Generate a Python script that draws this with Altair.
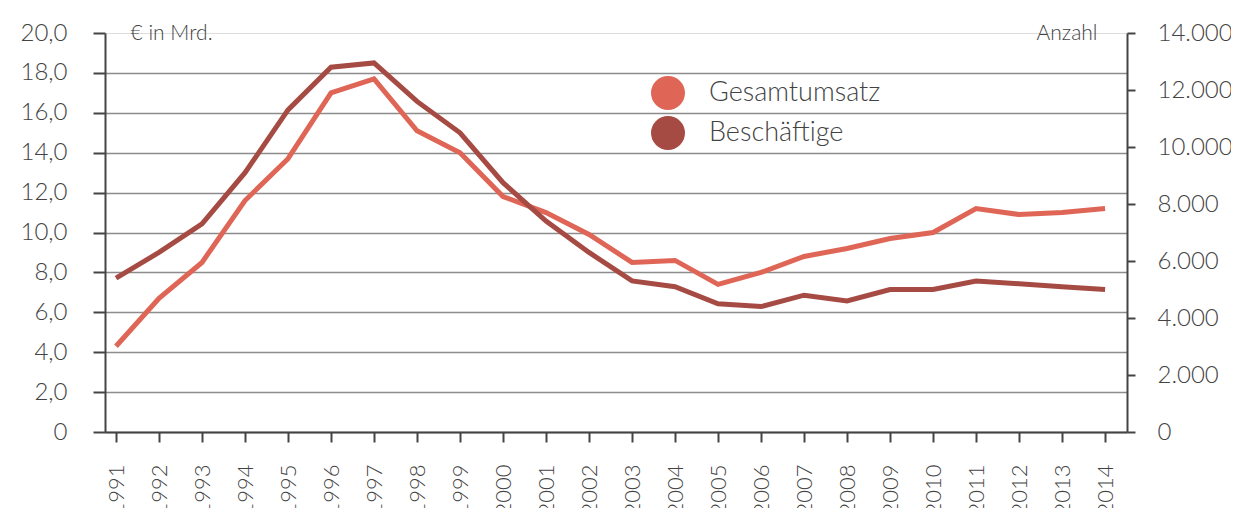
import altair as alt
import pandas as pd

years = list(range(1991, 2015))
umsatz = [4.3, 6.7, 8.5, 11.6, 13.7, 17.0, 17.7, 15.1, 14.0, 11.8, 11.0, 9.9, 8.5, 8.6, 7.4,
          8.0, 8.8, 9.2, 9.7, 10.0, 11.2, 10.9, 11.0, 11.2]
beschaeftigte = [5400, 6300, 7300, 9100, 11300, 12800, 12950, 11600, 10500, 8750, 7400, 6300,
                 5300, 5100, 4500, 4400, 4800, 4600, 5000, 5000, 5300, 5200, 5100, 5000]
series_names = ["Gesamtumsatz", "Beschäftige"]
colors = ["#DF6656", "#A64B43"]
left_ticks = [0, 2, 4, 6, 8, 10, 12, 14, 16, 18, 20]
right_ticks = [0, 2000, 4000, 6000, 8000, 10000, 12000, 14000]

df1 = pd.DataFrame({"Jahr": years, "Wert": umsatz, "Serie": series_names[0]})
df2 = pd.DataFrame({"Jahr": years, "Wert": beschaeftigte, "Serie": series_names[1]})
df_leg = pd.concat([df1, df2])

FONT = "Lato"
TXT = "#434343"
AX = "#444444"
LW = 300

x_enc = alt.X("Jahr:Q",
              scale=alt.Scale(domain=[1990.744, 2014.51], nice=False, zero=False),
              axis=alt.Axis(values=years, format="d", labelAngle=270, title=None, grid=False,
                            tickSize=10, tickWidth=2, tickColor=AX, domainColor=AX, domainWidth=2,
                            labelPadding=22, labelFontSize=22, labelColor=TXT, labelFont=FONT,
                            labelFontWeight=LW))

color_leg = alt.Color("Serie:N",
                      scale=alt.Scale(domain=series_names, range=colors),
                      legend=alt.Legend(title=None, orient="none", legendX=546, legendY=43,
                                        symbolType="circle", symbolSize=1156, symbolStrokeWidth=0,
                                        symbolOpacity=1, labelLimit=400,
                                        labelFontSize=27, labelFont=FONT, labelFontWeight=LW,
                                        labelColor=TXT, labelOffset=24, rowPadding=6, padding=0))

left = alt.Chart(df1).mark_line(strokeWidth=5, strokeJoin="miter", color=colors[0]).encode(
    x=x_enc,
    y=alt.Y("Wert:Q", scale=alt.Scale(domain=[0, 20], nice=False),
            axis=alt.Axis(values=left_ticks, orient="left", title="€ in Mrd.", titleAngle=0,
                          titleX=25, titleY=0, titleAlign="left", titleBaseline="middle",
                          titleFontSize=21, titleFont=FONT, titleFontWeight=LW, titleColor=TXT,
                          labelExpr="datum.value == 0 ? '0' : replace(format(datum.value, '.1f'), '.', ',')",
                          labelFontSize=24, labelFont=FONT, labelFontWeight=LW, labelColor=TXT,
                          labelPadding=26, tickSize=12, tickWidth=2, tickColor=AX,
                          domainColor=AX, domainWidth=2,
                          grid=True, gridColor="#8c8c8c", gridWidth=1.5,
                          gridOpacity={"condition": {"test": "datum.value == 20", "value": 0},
                                       "value": 1})),
)

right = alt.Chart(df2).mark_line(strokeWidth=5, strokeJoin="miter", color=colors[1]).encode(
    x=x_enc,
    y=alt.Y("Wert:Q", scale=alt.Scale(domain=[0, 14000], nice=False),
            axis=alt.Axis(values=right_ticks, orient="right", title="Anzahl", titleAngle=0,
                          titleX=-30, titleY=0, titleAlign="right", titleBaseline="middle",
                          titleFontSize=21, titleFont=FONT, titleFontWeight=LW, titleColor=TXT,
                          labelExpr="datum.value == 0 ? '0' : replace(format(datum.value, ','), ',', '.')",
                          labelFontSize=24, labelFont=FONT, labelFontWeight=LW, labelColor=TXT,
                          labelPadding=22, tickSize=8, tickWidth=2, tickColor=AX,
                          domainColor=AX, domainWidth=2, grid=False)),
)

legend_layer = alt.Chart(df_leg).mark_point(filled=True, size=0, opacity=0).encode(
    x=x_enc,
    y=alt.Y("Jahr:Q", scale=alt.Scale(domain=[0, 1]), axis=None),
    color=color_leg,
)

chart = alt.layer(left, right, legend_layer).resolve_scale(y="independent").properties(
    width=1022, height=399,
    autosize=alt.AutoSizeParams(type="none"),
    padding={"left": 97, "top": 25, "right": 104, "bottom": 76},
).configure_view(stroke=None).configure(background="white")

chart.save("out.html", embed_options={"renderer": "svg", "actions": False})
